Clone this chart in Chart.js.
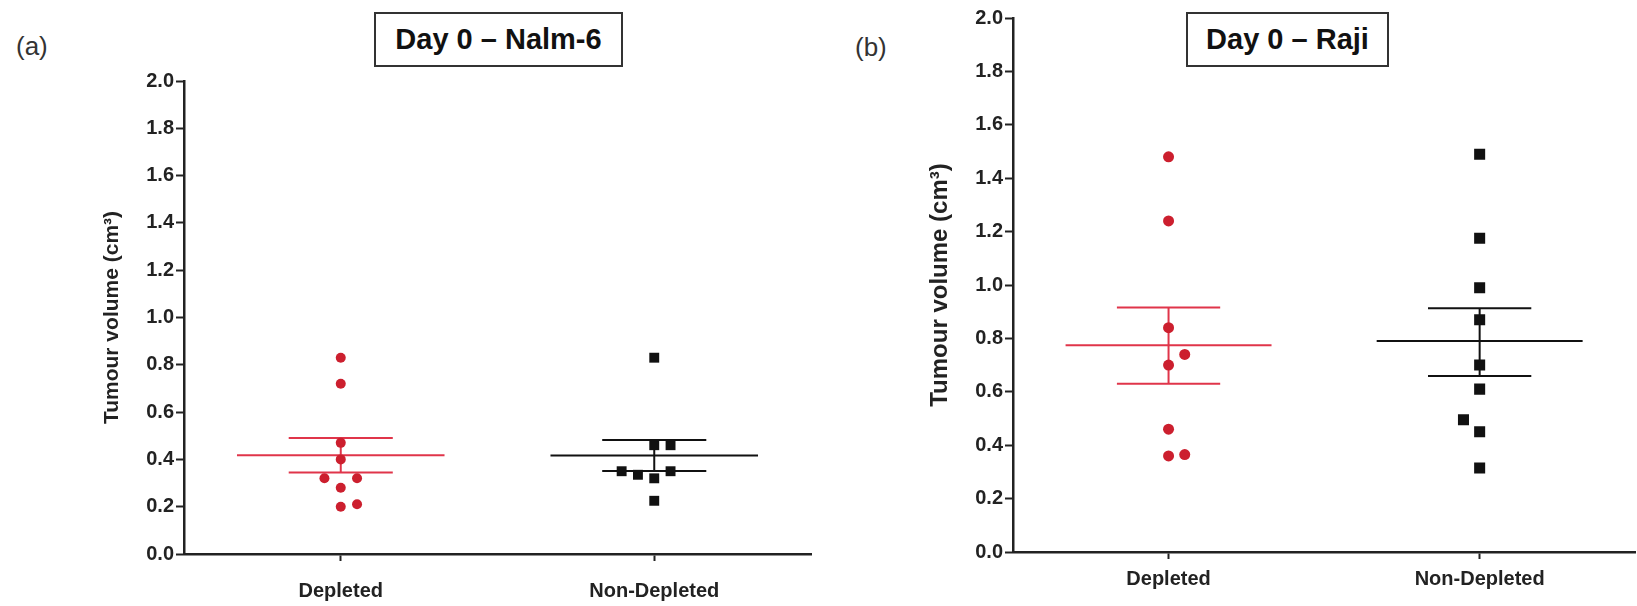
<!DOCTYPE html>
<html>
<head>
<meta charset="utf-8">
<script src="https://cdn.jsdelivr.net/npm/chart.js@4.4.0/dist/chart.umd.min.js"></script>
<style>
  body { margin:0; width:1637px; height:606px; overflow:hidden; background:#fff; position:relative;
         font-family:"Liberation Sans", Arial, sans-serif; }
  canvas { position:absolute; top:0; }
  .tag { position:absolute; font-size:26px; color:#333; line-height:1; }
  .title-box { position:absolute; top:12px; height:55px; box-sizing:border-box; border:2px solid #333;
               font-weight:bold; font-size:29px; line-height:51px; text-align:center; color:#111; background:#fff; }
</style>
</head>
<body>
<div class="tag" style="left:16px; top:33px;">(a)</div>
<div class="tag" style="left:855px; top:34px;">(b)</div>
<canvas id="chartA" width="818" height="606" style="left:0;"></canvas>
<canvas id="chartB" width="813" height="606" style="left:830px;"></canvas>
<div class="title-box" style="left:374px; width:249px;">Day 0 – Nalm-6</div>
<div class="title-box" style="left:1186px; width:203px;">Day 0 – Raji</div>

<script>
// ====== Dữ liệu chung ======
const categories = ["Depleted", "Non-Depleted"];
const yTicks = [0, 0.2, 0.4, 0.6, 0.8, 1.0, 1.2, 1.4, 1.6, 1.8, 2.0];
const yTitle = "Tumour volume (cm³)";

// ====== (a) Day 0 – Nalm-6 ======
const nalmDepleted      = [0.83, 0.72, 0.47, 0.40, 0.32, 0.32, 0.28, 0.20, 0.21];
const nalmDepletedCol   = [0, 0, 0, 0, -1, 1, 0, 0, 1];   // cột lệch của điểm trùng
const nalmNonDepleted   = [0.83, 0.46, 0.46, 0.35, 0.335, 0.32, 0.35, 0.225];
const nalmNonDepletedCol= [0, 0, 1, -2, -1, 0, 1, 0];
const nalmMean    = [0.418, 0.416];
const nalmSemHigh = [0.491, 0.482];
const nalmSemLow  = [0.345, 0.351];

// ====== (b) Day 0 – Raji ======
const rajiDepleted      = [1.48, 1.24, 0.84, 0.70, 0.74, 0.46, 0.36, 0.365];
const rajiDepletedCol   = [0, 0, 0, 0, 1, 0, 0, 1];
const rajiNonDepleted   = [1.49, 1.175, 0.99, 0.87, 0.70, 0.61, 0.495, 0.45, 0.315];
const rajiNonDepletedCol= [0, 0, 0, 0, 0, 0, -1, 0, 0];
const rajiMean    = [0.774, 0.790];
const rajiSemHigh = [0.916, 0.913];
const rajiSemLow  = [0.630, 0.659];

// ====== Kiểu ======
const RED_PT = "#cc1f2e", RED_LINE = "#e0354a", BLACK = "#111";
const COL_STEP = 0.052, MEAN_HALF = 0.331, CAP_HALF = 0.166;
const FONT = "'Liberation Sans', Arial, sans-serif";

function seg(x1, y1, x2, y2, color) {
  return {
    data: [{ x: x1, y: y1 }, { x: x2, y: y2 }],
    showLine: true, borderColor: color, borderWidth: 2,
    pointRadius: 0, order: 2
  };
}

function groupSets(vals, cols, idx, mean, hi, lo, pt, line, style, r) {
  const c = idx + 1;
  return [
    {
      data: vals.map((v, i) => ({ x: c + cols[i] * COL_STEP, y: v })),
      pointStyle: style, pointRadius: r, backgroundColor: pt, borderColor: pt,
      borderWidth: 0, order: 1
    },
    seg(c - MEAN_HALF, mean[idx], c + MEAN_HALF, mean[idx], line),
    seg(c - CAP_HALF, hi[idx], c + CAP_HALF, hi[idx], line),
    seg(c - CAP_HALF, lo[idx], c + CAP_HALF, lo[idx], line),
    seg(c, lo[idx], c, hi[idx], line)
  ];
}

function makeChart(id, datasets, o) {
  return new Chart(document.getElementById(id), {
    type: "scatter",
    data: { datasets },
    options: {
      responsive: false,
      animation: false,
      devicePixelRatio: 1,
      layout: { padding: { top: o.padTop, right: o.padRight, left: 0, bottom: 0 } },
      plugins: { legend: { display: false }, tooltip: { enabled: false } },
      scales: {
        x: {
          type: "linear", min: 0.5, max: 2.5,
          afterBuildTicks: s => { s.ticks = categories.map((_, i) => ({ value: i + 1 })); },
          afterFit: s => { s.height = o.xHeight; },
          ticks: {
            callback: v => categories[Math.round(v) - 1],
            font: { family: FONT, size: 20, weight: "bold" }, color: "#222",
            padding: o.xPad, maxRotation: 0
          },
          grid: { drawOnChartArea: false, tickLength: 7, tickWidth: 2, tickColor: "#222" },
          border: { color: "#222", width: 2.5 }
        },
        y: {
          min: 0, max: 2,
          afterBuildTicks: s => { s.ticks = yTicks.map(v => ({ value: v })); },
          afterFit: s => { s.width = o.yWidth; },
          ticks: {
            callback: v => v.toFixed(1),
            font: { family: FONT, size: 20, weight: "bold" }, color: "#222", padding: 2
          },
          grid: { drawOnChartArea: false, tickLength: 8, tickWidth: 2, tickColor: "#222" },
          border: { color: "#222", width: 2.5 },
          title: {
            display: true, text: yTitle, color: "#222",
            font: { family: FONT, size: o.titleSize, weight: "bold" },
            padding: { top: o.titlePad, bottom: 0 }
          }
        }
      }
    }
  });
}

makeChart("chartA", [
  ...groupSets(nalmDepleted, nalmDepletedCol, 0, nalmMean, nalmSemHigh, nalmSemLow, RED_PT, RED_LINE, "circle", 5),
  ...groupSets(nalmNonDepleted, nalmNonDepletedCol, 1, nalmMean, nalmSemHigh, nalmSemLow, BLACK, BLACK, "rect", 7)
], { padTop: 81, padRight: 6, yWidth: 184, xHeight: 52, xPad: 18, titleSize: 21, titlePad: 100 });

makeChart("chartB", [
  ...groupSets(rajiDepleted, rajiDepletedCol, 0, rajiMean, rajiSemHigh, rajiSemLow, RED_PT, RED_LINE, "circle", 5.5),
  ...groupSets(rajiNonDepleted, rajiNonDepletedCol, 1, rajiMean, rajiSemHigh, rajiSemLow, BLACK, BLACK, "rect", 7.8)
], { padTop: 18, padRight: 0, yWidth: 183, xHeight: 54, xPad: 8, titleSize: 24, titlePad: 96 });
</script>
</body>
</html>
